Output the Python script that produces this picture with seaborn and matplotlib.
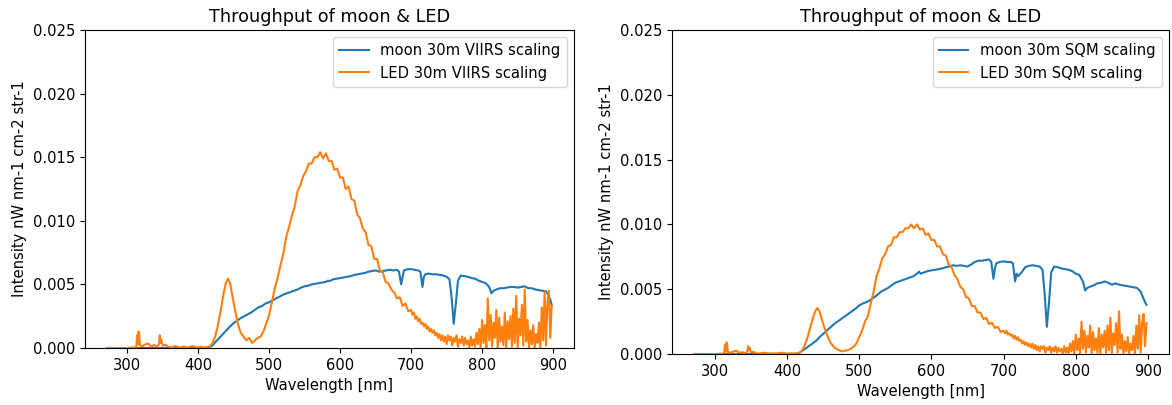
import numpy as np
import pandas as pd
import matplotlib
matplotlib.use("Agg")
import matplotlib.pyplot as plt
import seaborn as sns

# Intensities below are in units of 1e-3 nW nm-1 cm-2 str-1.
UNIT = 1e-3

# ---------- LED spectrum (shared wavelength grid, nm) ----------
led_wl = np.array(
    # UV / blue floor with a few instrument spikes
    [272, 280, 290, 300, 308, 312, 313, 314, 315, 316, 317, 318, 322, 326, 330,
     334, 338, 342, 345, 346, 347, 348, 350, 354, 358, 362, 368, 374, 380, 386,
     392, 398, 404, 410, 414,
     # blue pump peak and phosphor hump
     416, 420, 424, 428, 432, 436, 439, 442, 445, 448, 452, 456, 460, 464, 468,
     472, 476, 480, 484, 488, 492, 496, 500, 504, 508, 512, 516, 520, 524, 528,
     532, 536, 540, 544, 548, 552, 556, 560, 564, 568, 572, 576, 580, 584, 588,
     592, 596, 600, 604, 608, 612, 616, 620, 624, 628, 632, 636, 640, 644, 648,
     652, 656, 660, 664, 668, 672, 676, 680, 684, 688, 692, 696, 700,
     # red / near-IR tail (noisy)
     702, 704, 706, 708, 710, 712, 714, 716, 718, 720, 722, 724, 726, 728, 730,
     732, 734, 736, 738, 740, 742, 744, 746, 748, 750, 752, 754, 756, 758, 760,
     762, 764, 766, 768, 770, 772, 774, 776, 778, 780, 782, 784, 786, 788, 790,
     792, 794, 796, 798, 800, 802, 804, 806, 808, 810, 812, 814, 816, 818, 820,
     822, 824, 826, 828, 830, 832, 834, 836, 838, 840, 842, 844, 846, 848, 850,
     852, 854, 856, 858, 860, 862, 864, 866, 868, 870, 872, 874, 876, 878, 880,
     882, 884, 886, 888, 890, 892, 894, 896, 898])

led_viirs = np.array(
    [0.0, 0.0, 0.0, 0.0, 0.05, 0.05, 0.1, 1.0, 0.3, 1.3, 1.2, 0.2, 0.15, 0.3, 0.35,
     0.1, 0.25, 0.1, 0.3, 1.0, 0.4, 0.7, 0.2, 0.25, 0.1, 0.05, 0.15, 0.05, 0.1, 0.05,
     0.15, 0.05, 0.1, 0.05, 0.1,
     0.1, 0.35, 0.9, 1.8, 3.0, 4.3, 5.1, 5.45, 5.1, 4.2, 3.0, 1.9, 1.2, 0.9, 0.6,
     0.8, 0.4, 0.6, 0.8, 0.9, 1.3, 1.9, 2.6, 3.6, 4.7, 5.5, 6.5, 7.4, 8.7, 9.5,
     10.4, 11.1, 12.3, 12.8, 13.5, 13.9, 14.5, 14.5, 15.0, 15.0, 15.4, 14.9, 15.3, 14.7, 14.7,
     14.0, 14.1, 13.4, 13.4, 12.5, 12.7, 11.7, 11.6, 10.5, 10.2, 9.4, 9.1, 8.1, 8.0, 7.0,
     7.0, 6.1, 6.0, 5.2, 5.1, 4.6, 4.4, 3.9, 4.0, 3.3, 3.5, 2.9, 3.0,
     2.6, 2.8, 2.3, 2.5, 2.1, 2.3, 1.9, 2.0, 1.7, 1.9, 1.5, 1.7, 1.3, 1.5, 1.2,
     1.4, 1.0, 1.2, 0.8, 1.1, 0.6, 1.0, 0.5, 0.9, 0.3, 1.0, 0.6, 0.9, 0.2, 0.8,
     0.5, 1.0, 0.1, 0.7, 0.4, 0.9, 0.2, 0.8, 0.3, 0.6, 0.0, 0.9, 0.2, 0.7, 0.1,
     1.2, 0.3, 1.5, 0.0, 2.2, 0.4, 1.8, 0.0, 3.9, 0.6, 2.6, 0.1, 2.0, 0.8, 3.0,
     0.0, 2.4, 0.5, 1.7, 0.2, 2.8, 0.0, 2.1, 0.7, 2.5, 0.1, 3.1, 0.4, 4.1, 0.0,
     2.3, 1.0, 3.4, 0.2, 4.6, 0.5, 2.2, 0.0, 1.4, 0.3, 1.8, 0.0, 1.1, 0.4, 2.0,
     0.0, 3.2, 0.6, 4.4, 0.2, 3.6, 4.5, 0.8, 3.3])

led_sqm = np.array(
    [0.0, 0.0, 0.0, 0.0, 0.03, 0.03, 0.1, 0.7, 0.2, 0.9, 0.8, 0.15, 0.1, 0.2, 0.25,
     0.1, 0.15, 0.05, 0.2, 0.6, 0.3, 0.5, 0.15, 0.15, 0.05, 0.05, 0.1, 0.05, 0.05, 0.05,
     0.1, 0.05, 0.05, 0.05, 0.05,
     0.05, 0.2, 0.6, 1.2, 2.0, 2.8, 3.3, 3.55, 3.3, 2.7, 2.0, 1.4, 0.9, 0.6, 0.4,
     0.3, 0.2, 0.25, 0.3, 0.4, 0.55, 0.8, 1.3, 1.8, 2.5, 2.9, 3.9, 4.8, 6.0, 6.6,
     7.4, 7.7, 8.3, 8.4, 9.0, 9.0, 9.4, 9.4, 9.7, 9.7, 10.0, 9.7, 10.0, 9.6, 9.7,
     9.2, 9.3, 8.8, 8.8, 8.3, 8.3, 7.7, 7.6, 6.9, 6.7, 6.1, 5.8, 5.2, 5.0, 4.4,
     4.3, 3.7, 3.7, 3.2, 3.2, 2.7, 2.8, 2.3, 2.4, 2.0, 2.1, 1.7, 1.8,
     1.6, 1.8, 1.5, 1.6, 1.4, 1.5, 1.2, 1.4, 1.1, 1.3, 1.0, 1.1, 0.8, 1.0, 0.7,
     0.9, 0.6, 0.8, 0.5, 0.8, 0.4, 0.7, 0.3, 0.6, 0.2, 0.6, 0.4, 0.6, 0.1, 0.5,
     0.3, 0.6, 0.1, 0.5, 0.2, 0.6, 0.1, 0.5, 0.2, 0.4, 0.0, 0.6, 0.1, 0.5, 0.0,
     0.8, 0.2, 1.0, 0.0, 1.5, 0.3, 1.2, 0.0, 2.5, 0.4, 1.8, 0.1, 1.4, 0.5, 2.2,
     0.0, 1.7, 0.3, 1.2, 0.1, 2.0, 0.0, 1.5, 0.5, 1.8, 0.1, 2.2, 0.3, 2.8, 0.0,
     1.6, 0.7, 2.4, 0.1, 3.3, 0.4, 1.5, 0.0, 1.0, 0.2, 1.3, 0.0, 0.8, 0.3, 1.4,
     0.0, 2.2, 0.4, 3.0, 0.1, 2.5, 3.1, 0.6, 2.4])

# ---------- Moon spectrum (wavelength grid, nm) ----------
moon_wl = np.array(
    [272, 300, 350, 400, 412, 416, 420, 425, 430, 435, 440, 445, 450, 455, 460,
     465, 470, 475, 480, 485, 490, 495, 500, 505, 510, 515, 520, 525, 530, 535,
     540, 545, 550, 555, 560, 565, 570, 575, 580, 583, 585, 590, 595, 600, 605,
     610, 615, 620, 625, 630, 635, 640, 645, 650, 655, 660, 665, 670, 675, 680,
     683, 686, 688, 690, 695, 700, 705, 710, 713, 716, 718, 720, 725, 730, 735,
     740, 745, 750, 754, 757, 760, 763, 766, 770, 775, 780, 785, 790, 795, 800,
     805, 810, 813, 816, 820, 825, 830, 835, 840, 845, 850, 855, 860, 865, 870,
     875, 880, 885, 890, 893, 896, 898])

moon_viirs = np.array(
    [0.0, 0.0, 0.0, 0.0, 0.0, 0.05, 0.2, 0.5, 0.8, 1.1, 1.4, 1.7, 1.95, 2.15, 2.35,
     2.5, 2.65, 2.8, 3.0, 3.2, 3.3, 3.5, 3.6, 3.75, 3.9, 4.05, 4.2, 4.3, 4.4, 4.5,
     4.6, 4.75, 4.85, 4.9, 5.0, 5.05, 5.1, 5.15, 5.2, 5.3, 5.25, 5.4, 5.45, 5.5, 5.55,
     5.6, 5.65, 5.75, 5.8, 5.85, 5.9, 6.0, 6.05, 6.1, 6.0, 6.05, 6.1, 6.15, 6.1, 6.15,
     6.0, 5.0, 5.6, 6.1, 6.2, 6.2, 6.15, 6.1, 6.0, 4.8, 5.6, 5.8, 5.85, 5.8, 5.8,
     5.75, 5.7, 5.6, 5.4, 4.0, 1.9, 3.5, 5.3, 5.7, 5.65, 5.6, 5.5, 5.45, 5.3, 5.2,
     5.1, 4.8, 4.3, 4.5, 4.6, 4.7, 4.7, 4.75, 4.8, 4.8, 4.75, 4.8, 4.85, 4.7, 4.7,
     4.6, 4.55, 4.5, 4.45, 4.2, 3.8, 3.4])

moon_sqm = np.array(
    [0.0, 0.0, 0.0, 0.0, 0.0, 0.05, 0.2, 0.4, 0.6, 0.8, 1.0, 1.3, 1.55, 1.8, 2.05,
     2.3, 2.5, 2.7, 2.9, 3.1, 3.3, 3.5, 3.75, 3.9, 4.0, 4.15, 4.35, 4.55, 4.8, 4.95,
     5.1, 5.3, 5.5, 5.6, 5.7, 5.8, 5.9, 6.0, 6.2, 6.35, 6.2, 6.3, 6.4, 6.45, 6.5,
     6.55, 6.6, 6.7, 6.75, 6.85, 6.8, 6.85, 6.8, 6.75, 6.9, 7.1, 7.2, 7.2, 7.25, 7.3,
     7.1, 5.8, 6.6, 7.0, 7.1, 7.15, 7.1, 7.1, 7.0, 5.6, 6.2, 6.0, 6.3, 6.7, 6.8,
     6.85, 6.8, 6.75, 6.5, 4.6, 2.1, 4.0, 6.3, 6.75, 6.7, 6.6, 6.55, 6.5, 6.4, 6.2,
     6.1, 5.6, 4.9, 5.1, 5.2, 5.3, 5.45, 5.5, 5.6, 5.5, 5.35, 5.45, 5.35, 5.3, 5.25,
     5.2, 5.15, 5.1, 4.8, 4.4, 4.0, 3.8])

moon_df = pd.DataFrame({"wl": moon_wl,
                        "VIIRS": moon_viirs * UNIT,
                        "SQM": moon_sqm * UNIT})
led_df = pd.DataFrame({"wl": led_wl,
                       "VIIRS": led_viirs * UNIT,
                       "SQM": led_sqm * UNIT})

TEXT_SIZE = 10.6
plt.rcParams["xtick.labelsize"] = TEXT_SIZE
plt.rcParams["ytick.labelsize"] = TEXT_SIZE

fig = plt.figure(figsize=(11.72, 4.05), dpi=100)
ax_left = fig.add_axes([0.0725, 0.1407, 0.4172, 0.7852])
ax_right = fig.add_axes([0.5734, 0.1259, 0.4241, 0.8000])

for ax, key in [(ax_left, "VIIRS"), (ax_right, "SQM")]:
    sns.lineplot(data=moon_df, x="wl", y=key, ax=ax, color="C0", lw=1.5,
                 label=f"moon 30m {key} scaling")
    sns.lineplot(data=led_df, x="wl", y=key, ax=ax, color="C1", lw=1.5,
                 label=f"LED 30m {key} scaling")
    ax.set_ylim(0, 0.025)
    ax.set_yticks(np.arange(0, 0.0251, 0.005))
    ax.yaxis.set_major_formatter(matplotlib.ticker.FormatStrFormatter("%.3f"))
    ax.set_xticks([300, 400, 500, 600, 700, 800, 900])
    ax.set_title("Throughput of moon & LED", fontsize=12.7)
    ax.set_xlabel("Wavelength [nm]", fontsize=TEXT_SIZE)
    ax.set_ylabel("Intensity nW nm-1 cm-2 str-1", fontsize=TEXT_SIZE)
    ax.legend(loc="upper right", fontsize=TEXT_SIZE)

fig.savefig("out.png", dpi=100)
